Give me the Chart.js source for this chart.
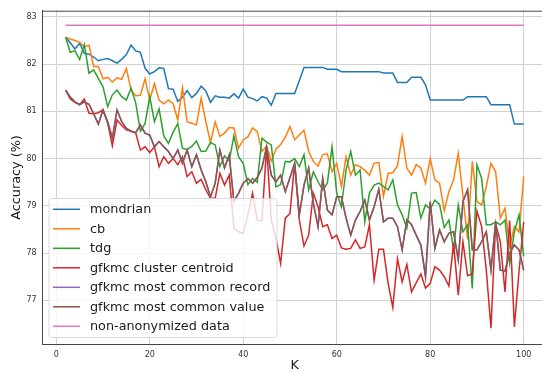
<!DOCTYPE html>
<html>
<head>
<meta charset="utf-8">
<script src="https://cdn.jsdelivr.net/npm/chart.js@4/dist/chart.umd.min.js"></script>
<style>
  html, body { margin: 0; padding: 0; background: #fff; overflow: hidden; width: 542px; height: 372px; }
  canvas { display: block; }
</style>
</head>
<body>
<canvas id="c" width="548" height="372"></canvas>
<script>
// K values (x axis)
const ks = Array.from({ length: 99 }, (_, i) => i + 2);

const xTickLabels = [0, 20, 40, 60, 80, 100];
const yTickLabels = [77, 78, 79, 80, 81, 82, 83];

const seriesNames = [
  'mondrian', 'cb', 'tdg', 'gfkmc cluster centroid',
  'gfkmc most common record', 'gfkmc most common value', 'non-anonymized data'
];

// Accuracy (%) for K = 2 .. 100
const mondrian = [
  82.57, 82.45, 82.32, 82.44, 82.23, 82.21, 82.15, 82.07, 82.10, 82.12,
  82.07, 82.02, 82.10, 82.20, 82.40, 82.28, 82.25, 81.91, 81.79, 81.84,
  81.92, 81.91, 81.48, 81.47, 81.21, 81.30, 81.44, 81.29, 81.38, 81.53,
  81.43, 81.19, 81.33, 81.30, 81.30, 81.28, 81.37, 81.28, 81.47, 81.30,
  81.27, 81.22, 81.31, 81.28, 81.13, 81.38, 81.38, 81.38, 81.38, 81.38,
  81.65, 81.93, 81.93, 81.93, 81.93, 81.93, 81.89, 81.89, 81.89, 81.84,
  81.84, 81.84, 81.84, 81.84, 81.84, 81.84, 81.84, 81.84, 81.81, 81.81,
  81.81, 81.61, 81.61, 81.61, 81.72, 81.72, 81.72, 81.56, 81.24, 81.24,
  81.24, 81.24, 81.24, 81.24, 81.24, 81.24, 81.31, 81.31, 81.31, 81.31,
  81.31, 81.14, 81.14, 81.14, 81.14, 81.14, 80.73, 80.73, 80.73
];

const cb = [
  82.57, 82.53, 82.50, 82.46, 82.37, 82.40, 81.95, 81.95, 81.69, 81.72,
  81.62, 81.71, 81.68, 81.91, 81.45, 81.33, 81.34, 81.69, 81.24, 81.59,
  81.24, 81.16, 81.24, 81.16, 80.82, 81.50, 80.78, 80.75, 80.71, 81.28,
  80.78, 80.34, 80.78, 80.47, 80.54, 80.66, 80.65, 80.22, 80.40, 80.46,
  80.65, 80.57, 80.15, 80.26, 79.95, 80.20, 80.30, 80.45, 80.68, 80.40,
  80.50, 80.60, 80.15, 79.94, 79.84, 80.08, 80.10, 79.72, 79.90, 79.41,
  80.04, 79.65, 79.87, 79.83, 79.75, 79.65, 79.90, 79.92, 79.20, 79.69,
  79.70, 79.85, 80.47, 79.80, 79.65, 79.87, 79.80, 79.48, 80.00, 79.55,
  79.48, 78.90, 79.30, 79.55, 80.11, 79.20, 78.29, 79.94, 79.09, 79.02,
  79.41, 79.90, 79.72, 78.74, 78.95, 78.14, 78.56, 78.45, 79.62
];

const tdg = [
  82.57, 82.25, 82.28, 82.10, 82.41, 81.81, 81.88, 81.70, 81.52, 81.10,
  81.35, 81.45, 81.31, 81.24, 81.49, 81.18, 80.58, 80.74, 81.31, 80.78,
  81.05, 80.48, 80.32, 80.56, 80.74, 80.22, 80.19, 80.26, 80.37, 80.15,
  80.16, 80.34, 80.29, 79.83, 80.06, 79.95, 80.48, 80.04, 79.90, 79.45,
  79.58, 79.50, 80.43, 80.35, 80.29, 79.40, 79.45, 79.94, 79.93, 80.00,
  79.83, 80.08, 79.34, 79.72, 79.51, 79.34, 79.48, 80.25, 79.27, 78.98,
  79.76, 80.15, 79.65, 79.76, 78.66, 79.27, 79.44, 79.48, 79.41, 79.34,
  79.55, 79.02, 78.81, 78.53, 79.27, 79.28, 78.74, 79.02, 78.93, 79.12,
  79.03, 78.54, 78.70, 78.07, 79.02, 78.45, 78.60, 77.25, 79.87, 79.58,
  78.60, 78.60, 78.66, 78.60, 78.70, 77.78, 78.45, 78.81, 77.93
];

const gfkmcCentroid = [
  81.45, 81.26, 81.19, 81.14, 81.26, 80.96, 80.95, 80.97, 81.03, 80.75,
  80.27, 80.82, 80.70, 80.61, 80.58, 80.54, 80.18, 80.25, 80.13, 80.25,
  79.83, 80.04, 79.90, 80.00, 79.87, 80.04, 79.62, 79.72, 79.48, 79.56,
  79.34, 79.16, 79.16, 79.69, 79.44, 79.65, 78.53, 78.45, 78.42, 78.81,
  79.27, 78.69, 78.69, 80.25, 78.70, 78.31, 77.78, 78.74, 78.84, 79.90,
  78.70, 78.15, 78.38, 79.27, 78.98, 78.56, 78.60, 78.31, 78.38, 78.11,
  78.08, 78.10, 78.28, 78.10, 78.13, 78.60, 77.43, 78.08, 78.08, 77.36,
  76.85, 77.88, 77.39, 77.76, 77.18, 77.37, 77.56, 77.26, 77.36, 77.71,
  77.64, 77.50, 77.30, 78.20, 77.11, 78.24, 77.52, 77.56, 78.89, 78.56,
  77.64, 76.41, 78.63, 78.24, 77.18, 78.69, 76.44, 77.61, 78.66
];

const gfkmcRecord = [
  81.45, 81.30, 81.20, 81.14, 81.20, 81.15, 80.95, 80.73, 81.03, 80.78,
  80.43, 81.03, 80.78, 80.64, 80.58, 80.55, 80.71, 80.54, 80.50, 80.25,
  80.36, 80.25, 80.15, 80.00, 80.18, 79.90, 80.18, 79.83, 80.08, 79.76,
  79.51, 79.19, 79.48, 80.18, 79.80, 80.08, 79.09, 79.27, 79.48, 79.58,
  79.48, 79.60, 79.80, 80.25, 79.65, 79.51, 79.65, 79.30, 79.60, 79.90,
  78.81, 79.44, 79.80, 79.05, 78.56, 79.58, 78.91, 78.81, 79.19, 79.19,
  78.74, 78.38, 78.70, 78.88, 79.12, 78.70, 78.98, 79.35, 78.66, 78.74,
  78.74, 78.56, 78.07, 78.71, 78.60, 78.38, 78.17, 77.50, 79.09, 78.10,
  78.49, 78.24, 78.42, 78.45, 77.85, 79.09, 79.34, 78.07, 78.07, 78.24,
  78.45, 77.64, 78.66, 77.64, 77.62, 78.00, 78.17, 78.07, 77.64
];

const gfkmcValue = [
  81.45, 81.30, 81.20, 81.14, 81.20, 81.15, 80.95, 80.73, 81.03, 80.78,
  80.43, 81.03, 80.78, 80.64, 80.58, 80.55, 80.71, 80.54, 80.50, 80.25,
  80.36, 80.25, 80.15, 80.00, 80.18, 79.90, 80.18, 79.83, 80.08, 79.76,
  79.51, 79.19, 79.48, 80.18, 79.80, 80.08, 79.09, 79.27, 79.48, 79.58,
  79.48, 79.60, 79.80, 80.25, 79.65, 79.51, 79.65, 79.30, 79.60, 79.90,
  78.81, 79.44, 79.80, 79.05, 78.56, 79.58, 78.91, 78.81, 79.19, 79.19,
  78.74, 78.38, 78.70, 78.88, 79.12, 78.70, 78.98, 79.35, 78.66, 78.74,
  78.74, 78.56, 78.07, 78.71, 78.60, 78.38, 78.17, 77.50, 79.09, 78.10,
  78.49, 78.24, 78.42, 78.45, 77.85, 79.09, 79.34, 78.07, 78.07, 78.24,
  78.45, 77.64, 78.66, 77.64, 77.62, 78.00, 78.17, 78.07, 77.64
];

// Accuracy without anonymization (constant over K)
const nonAnonymized = 82.82;

const colors = ['#1f77b4', '#ff7f0e', '#2ca02c', '#d62728', '#9467bd', '#8c564b', '#e377c2'];

const FONT = '"DejaVu Sans", "Liberation Sans", sans-serif';

function pts(arr) { return ks.map((k, i) => ({ x: k, y: arr[i] })); }

const allSeries = [
  pts(mondrian), pts(cb), pts(tdg), pts(gfkmcCentroid),
  pts(gfkmcRecord), pts(gfkmcValue),
  [{ x: ks[0], y: nonAnonymized }, { x: ks[ks.length - 1], y: nonAnonymized }]
];

// later series are painted over earlier ones
const datasets = allSeries.map((d, i) => ({
  label: seriesNames[i],
  data: d,
  order: allSeries.length - i,
  borderColor: colors[i],
  backgroundColor: colors[i],
  borderWidth: 1.5,
  pointRadius: 0,
  fill: false,
  tension: 0
}));

// Frame top edge, axis titles and the legend box
const decorations = {
  id: 'decorations',
  afterDatasetsDraw(chart) {
    const ctx = chart.ctx;
    const a = chart.chartArea;
    ctx.save();
    // top spine
    ctx.strokeStyle = '#444';
    ctx.lineWidth = 1;
    ctx.beginPath();
    ctx.moveTo(a.left, a.top + 0.5);
    ctx.lineTo(a.right, a.top + 0.5);
    ctx.stroke();

    // legend
    const lx = 49, ly = 198.5, lw = 228, lh = 139, r = 3;
    ctx.beginPath();
    ctx.moveTo(lx + r, ly);
    ctx.arcTo(lx + lw, ly, lx + lw, ly + lh, r);
    ctx.arcTo(lx + lw, ly + lh, lx, ly + lh, r);
    ctx.arcTo(lx, ly + lh, lx, ly, r);
    ctx.arcTo(lx, ly, lx + lw, ly, r);
    ctx.closePath();
    ctx.fillStyle = 'rgba(255,255,255,0.8)';
    ctx.fill();
    ctx.strokeStyle = 'rgba(210,210,210,0.8)';
    ctx.stroke();

    ctx.font = '12.8px ' + FONT;
    ctx.textBaseline = 'middle';
    ctx.textAlign = 'left';
    seriesNames.forEach((name, i) => {
      const y = 209.3 + i * 19.5;
      ctx.strokeStyle = colors[i];
      ctx.lineWidth = 1.5;
      ctx.beginPath();
      ctx.moveTo(53, y);
      ctx.lineTo(80, y);
      ctx.stroke();
      ctx.fillStyle = '#1a1a1a';
      ctx.fillText(name, 90, y + 0.5);
    });

    // axis titles
    ctx.fillStyle = '#1a1a1a';
    ctx.font = '12.8px ' + FONT;
    ctx.textAlign = 'center';
    ctx.textBaseline = 'middle';
    ctx.fillText('K', (a.left + a.right) / 2, 365.5);
    ctx.save();
    ctx.translate(17, (a.top + a.bottom) / 2);
    ctx.rotate(-Math.PI / 2);
    ctx.fillText('Accuracy (%)', 0, 0);
    ctx.restore();
    ctx.restore();
  }
};

new Chart(document.getElementById('c'), {
  type: 'line',
  data: { datasets },
  options: {
    responsive: false,
    animation: false,
    devicePixelRatio: 1,
    layout: { padding: { top: 10.7, right: 1.4, bottom: 0, left: 0 } },
    plugins: { legend: { display: false }, tooltip: { enabled: false } },
    scales: {
      x: {
        type: 'linear',
        min: -2.9,
        max: 104.9,
        afterBuildTicks: s => { s.ticks = xTickLabels.map(v => ({ value: v })); },
        afterFit: s => { s.height = 27.7; },
        ticks: { font: { family: FONT, size: 8 }, color: '#333', padding: 2, maxRotation: 0 },
        grid: { color: '#d2d2d2', lineWidth: 1, tickLength: 4, tickColor: 'rgba(0,0,0,0)' },
        border: { color: '#444', width: 1 }
      },
      y: {
        type: 'linear',
        min: 76.07,
        max: 83.13,
        afterBuildTicks: s => { s.ticks = yTickLabels.map(v => ({ value: v })); },
        afterFit: s => { s.width = 42.7; },
        ticks: { font: { family: FONT, size: 8 }, color: '#333', padding: 3 },
        grid: { color: '#d2d2d2', lineWidth: 1, tickLength: 3, tickColor: 'rgba(0,0,0,0)' },
        border: { color: '#444', width: 1 }
      }
    }
  },
  plugins: [decorations]
});
</script>
</body>
</html>
